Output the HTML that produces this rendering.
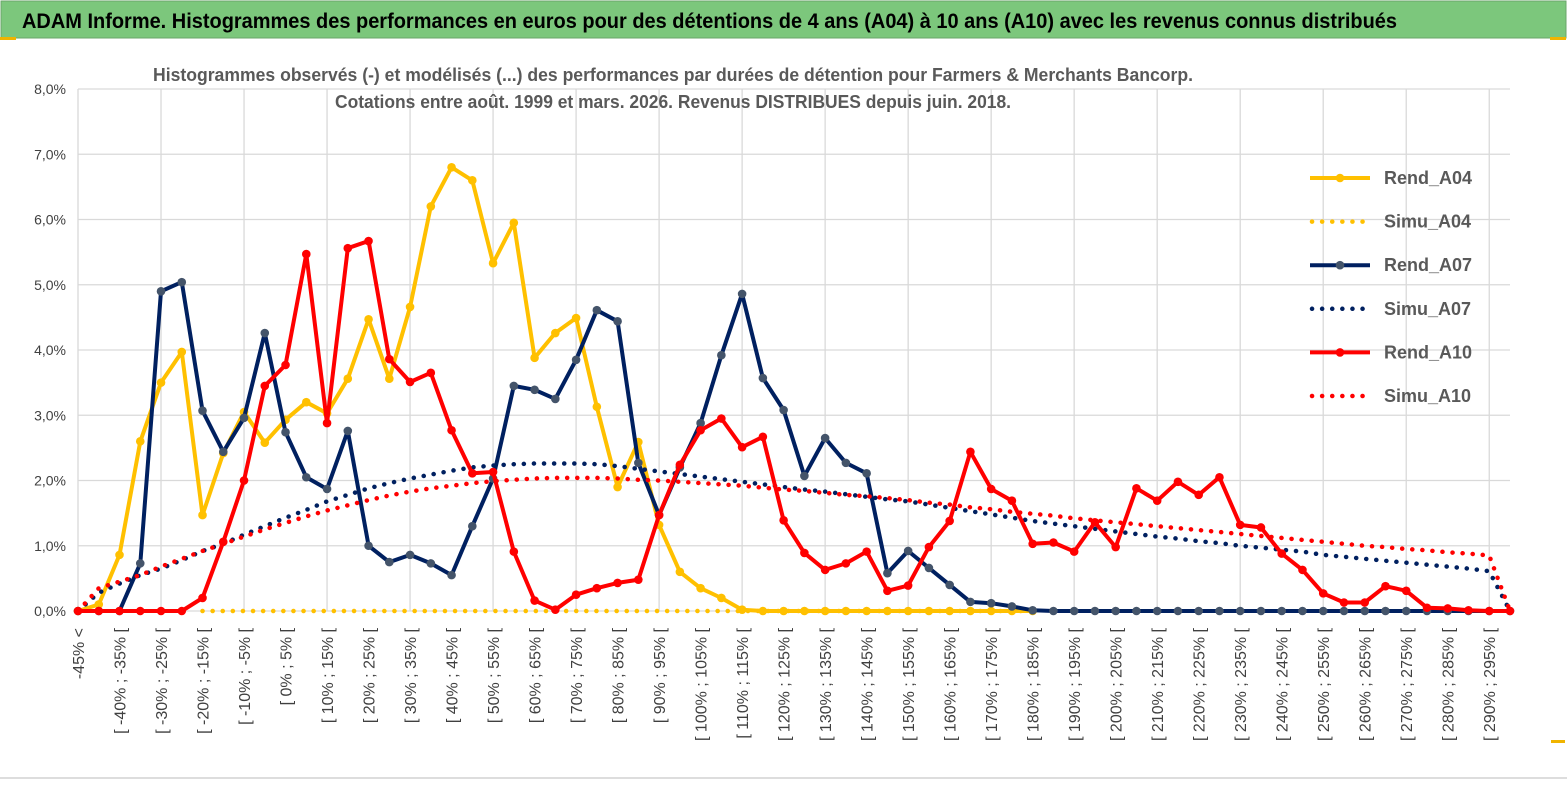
<!DOCTYPE html>
<html><head><meta charset="utf-8"><style>
body{margin:0;width:1567px;height:789px;background:#fff;overflow:hidden;font-family:"Liberation Sans",sans-serif}
svg{position:absolute;left:0;top:0}
</style></head><body>
<svg width="1567" height="789">
<rect x="0" y="0" width="1567" height="789" fill="#fff"/>
<rect x="1" y="1" width="1565" height="37" fill="#7cc77c" stroke="#6aa56a"/>
<text x="22" y="28" font-size="21" font-weight="bold" fill="#000" textLength="1375" lengthAdjust="spacingAndGlyphs">ADAM Informe. Histogrammes des performances en euros pour des détentions de 4 ans (A04) à 10 ans (A10) avec les revenus connus distribués</text>
<rect x="0" y="37" width="16" height="3" fill="#f0b400"/>
<rect x="1550" y="37" width="16" height="3" fill="#f0b400"/>
<rect x="1551" y="740" width="14" height="3" fill="#f0b400"/>
<line x1="0" y1="778" x2="1567" y2="778" stroke="#ddd" stroke-width="2"/>
<g id="grid"></g>
<g id="axes"></g>
<text x="673" y="81" text-anchor="middle" font-size="18" font-weight="bold" fill="#595959" textLength="1040" lengthAdjust="spacingAndGlyphs">Histogrammes observés (-) et modélisés (...)  des performances par durées de détention pour Farmers  &amp; Merchants Bancorp.</text>
<text x="673" y="108" text-anchor="middle" font-size="18" font-weight="bold" fill="#595959" textLength="676" lengthAdjust="spacingAndGlyphs">Cotations entre août. 1999 et mars. 2026. Revenus DISTRIBUES depuis juin. 2018.</text>
<g id="series"></g>
<g id="legend"></g>
</svg>
<script>
const rendA04=[0,0.1,0.86,2.6,3.5,3.97,1.47,2.42,3.05,2.58,2.93,3.2,3.03,3.56,4.47,3.56,4.66,6.2,6.8,6.6,5.33,5.95,3.88,4.26,4.49,3.13,1.9,2.59,1.32,0.6,0.35,0.2,0.02,0,0,0,0,0,0,0,0,0,0,0,0,0,0];
const simuA04=[null,null,null,null,null,null,0,0,0,0,0,0,0,0,0,0,0,0,0,0,0,0,0,0,0,0,0,0,0,0,0,0,0,0,0,0,0,0,0,0,0,0,0,0,0,0,0];
const rendA07=[0,0,0,0.73,4.9,5.04,3.07,2.44,2.96,4.26,2.74,2.05,1.87,2.76,1.0,0.75,0.86,0.73,0.55,1.3,2.03,3.45,3.39,3.25,3.85,4.61,4.44,2.27,1.47,2.2,2.88,3.92,4.86,3.57,3.08,2.07,2.65,2.27,2.11,0.58,0.92,0.66,0.4,0.14,0.12,0.07,0.01,0,0,0,0,0,0,0,0,0,0,0,0,0,0,0,0,0,0,0,0,0,0,0];
const simuA07=[0,0.28,0.42,0.55,0.65,0.78,0.92,1.03,1.17,1.3,1.43,1.55,1.68,1.78,1.88,1.96,2.03,2.09,2.15,2.2,2.23,2.25,2.26,2.26,2.26,2.25,2.22,2.18,2.14,2.1,2.06,2.02,1.98,1.94,1.9,1.86,1.83,1.79,1.75,1.71,1.68,1.63,1.58,1.53,1.48,1.43,1.38,1.34,1.3,1.26,1.22,1.18,1.14,1.11,1.07,1.04,1.0,0.97,0.94,0.91,0.86,0.83,0.8,0.77,0.74,0.71,0.68,0.65,0.61,0];
const rendA10=[0,0,0,0,0,0,0.2,1.06,2.0,3.45,3.77,5.47,2.88,5.56,5.67,3.86,3.51,3.65,2.77,2.11,2.13,0.91,0.16,0.02,0.25,0.35,0.43,0.48,1.47,2.24,2.77,2.95,2.51,2.67,1.39,0.89,0.63,0.73,0.91,0.31,0.39,0.98,1.38,2.44,1.87,1.69,1.03,1.05,0.91,1.36,0.98,1.88,1.69,1.98,1.78,2.05,1.32,1.28,0.88,0.63,0.27,0.13,0.13,0.38,0.31,0.05,0.04,0.01,0,0];
const simuA10=[0,0.35,0.45,0.55,0.68,0.8,0.92,1.03,1.14,1.25,1.35,1.45,1.54,1.62,1.7,1.77,1.83,1.88,1.92,1.96,1.99,2.01,2.03,2.04,2.04,2.04,2.03,2.01,2.0,1.98,1.96,1.94,1.92,1.89,1.86,1.84,1.81,1.78,1.76,1.73,1.7,1.66,1.63,1.59,1.56,1.52,1.49,1.46,1.42,1.39,1.36,1.33,1.3,1.27,1.24,1.21,1.18,1.15,1.12,1.09,1.06,1.03,1.0,0.98,0.95,0.93,0.9,0.88,0.85,0];
const yTicks=[0,1,2,3,4,5,6,7,8];
const legendNames=["Rend_A04","Simu_A04","Rend_A07","Simu_A07","Rend_A10","Simu_A10"];
const categories=["-45% <"];
for(let k=1;k<70;k++){const a=-45+5*(k-1);categories.push("[ "+a+"% ; "+(a+5)+"% [");}

const NS="http://www.w3.org/2000/svg";
const X0=78,X1=1510,Y0=611,YPX=65.25;
const x=i=>X0+i*(X1-X0)/(categories.length-1);
const y=v=>Y0-v*YPX;
function mk(tag,attrs,parent){const e=document.createElementNS(NS,tag);for(const k in attrs)e.setAttribute(k,attrs[k]);parent.appendChild(e);return e;}
const grid=document.getElementById('grid'),axes=document.getElementById('axes'),ser=document.getElementById('series'),leg=document.getElementById('legend');
yTicks.forEach(t=>{
  const l=mk('line',{x1:X0,x2:X1,y1:y(t),y2:y(t),stroke:'#d9d9d9','stroke-width':1.3},grid);
  
  
  const tx=mk('text',{x:66,y:y(t)+5,'text-anchor':'end','font-size':14,fill:'#404040'},axes);
  tx.textContent=t.toFixed(1).replace('.',',')+'%';
  
  
});
for(let i=0;i<categories.length;i+=4){
  const l=mk('line',{x1:x(i),x2:x(i),y1:y(8),y2:Y0,stroke:'#d9d9d9','stroke-width':1.3},grid);
  
  
}
for(let i=0;i<categories.length;i+=2){
  const tx=mk('text',{x:0,y:0,'text-anchor':'end','font-size':16,fill:'#404040',transform:`translate(${x(i)+6},628) rotate(-90)`},axes);
  tx.textContent=categories[i];
  
  
}
function pts(arr){const p=[];arr.forEach((v,i)=>{if(v!==null)p.push(x(i).toFixed(1)+','+y(v).toFixed(1));});return p.join(' ');}
function dotted(arr,color,name){
  const l=mk('polyline',{points:pts(arr),fill:'none',stroke:color,'stroke-width':4.5,'stroke-dasharray':'0.1 10','stroke-linecap':'round'},ser);
  
  
}
function solid(arr,color,mcol,name){
  const g=mk('g',{},ser);
  
  
  mk('polyline',{points:pts(arr),fill:'none',stroke:color,'stroke-width':4,'stroke-linejoin':'round'},g);
  arr.forEach((v,i)=>{if(v===null)return;
    const c=mk('circle',{cx:x(i),cy:y(v),r:4.3,fill:mcol},g);
    
    
  });
}
solid(rendA04,'#ffc000','#ffc000','series-rend-a04');
dotted(simuA04,'#ffc000','series-simu-a04');
solid(rendA07,'#002060','#44546a','series-rend-a07');
dotted(simuA07,'#002060','series-simu-a07');
solid(rendA10,'#ff0000','#ff0000','series-rend-a10');
dotted(simuA10,'#ff0000','series-simu-a10');
const lcol=['#ffc000','#ffc000','#002060','#002060','#ff0000','#ff0000'];
legendNames.forEach((n,k)=>{
  const yy=178+k*43.6;
  const g=mk('g',{},leg);
  
  
  if(k%2===0){mk('line',{x1:1310,x2:1370,y1:yy,y2:yy,stroke:lcol[k],'stroke-width':4},g);mk('circle',{cx:1340,cy:yy,r:4.3,fill:k===2?'#44546a':lcol[k]},g);}
  else mk('line',{x1:1312,x2:1370,y1:yy,y2:yy,stroke:lcol[k],'stroke-width':4.5,'stroke-dasharray':'0.1 10','stroke-linecap':'round'},g);
  const t=mk('text',{x:1384,y:yy+6,'font-size':18,'font-weight':'bold',fill:'#595959'},g);
  t.textContent=n;
});
</script>
</body></html>
